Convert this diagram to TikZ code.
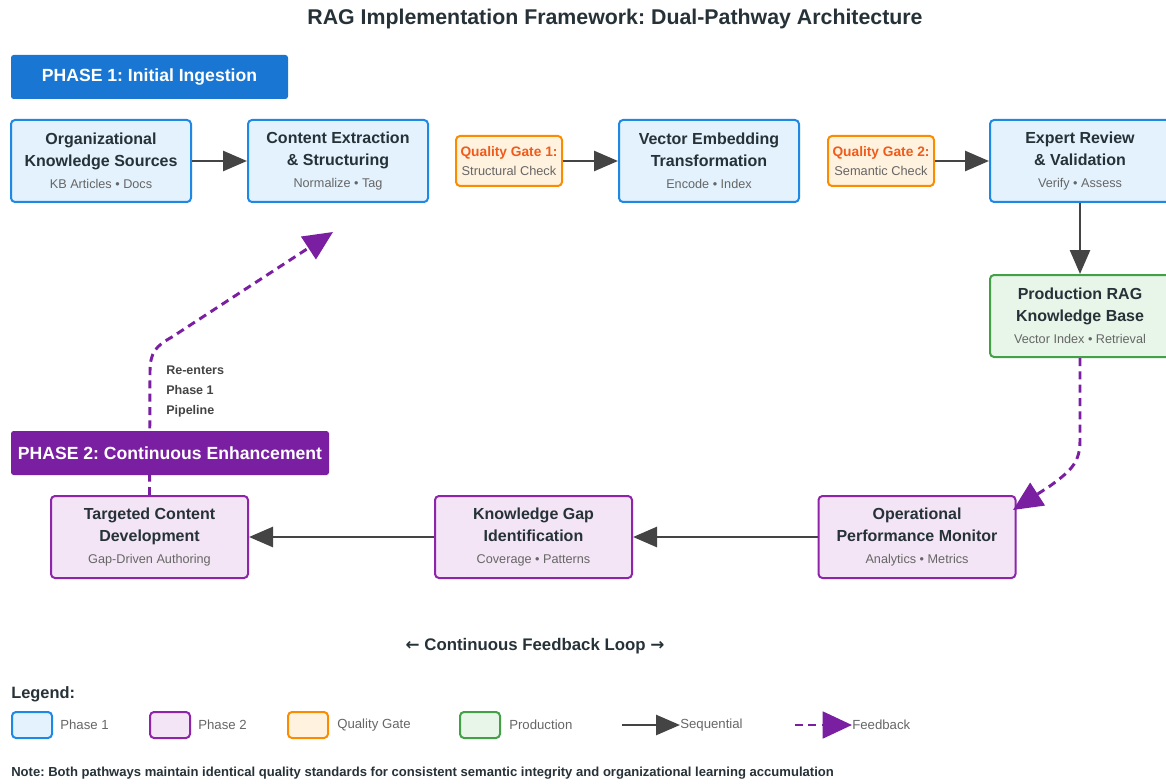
\documentclass[tikz,border=0pt]{standalone}
\usepackage{fontspec}
\setmainfont{Liberation Sans}
\newfontfamily\arrowfont{DejaVu Sans}
\frenchspacing
\usetikzlibrary{arrows.meta}
\definecolor{onefill}{HTML}{E3F2FD}
\definecolor{onedraw}{HTML}{1E88E5}
\definecolor{onebanner}{HTML}{1976D2}
\definecolor{twofill}{HTML}{F3E5F5}
\definecolor{twodraw}{HTML}{8E24AA}
\definecolor{twobanner}{HTML}{7B1FA2}
\definecolor{gatefill}{HTML}{FFF3E0}
\definecolor{gatedraw}{HTML}{FB8C00}
\definecolor{gatetext}{HTML}{F05A1A}
\definecolor{prodfill}{HTML}{E8F5E9}
\definecolor{proddraw}{HTML}{43A047}
\definecolor{seqgray}{HTML}{444444}
\definecolor{titlegray}{HTML}{263238}
\definecolor{subgray}{HTML}{666666}
\newcommand{\titlefont}{\fontsize{12}{14.5}\selectfont\bfseries\color{titlegray}}
\newcommand{\subfont}{\fontsize{9.5}{11}\selectfont\color{subgray}}
\newcommand{\boxtext}[3]{\titlefont #1\\[4.2pt]\titlefont #2\\[4.8pt]\subfont #3}
\newcommand{\gatetext}[2]{\fontsize{10.3}{12}\selectfont\bfseries\color{gatetext}#1\\[2.6pt]\fontsize{9.6}{11}\selectfont\color{subgray}#2}
\tikzstyle{phaseone} = [rectangle, rounded corners=3pt, minimum width=135pt, minimum height=61.5pt, align=center, draw=onedraw, fill=onefill, line width=1.5pt]
\tikzstyle{phasetwo} = [rectangle, rounded corners=3pt, minimum width=147.75pt, minimum height=61.5pt, align=center, draw=twodraw, fill=twofill, line width=1.5pt]
\tikzstyle{prod} = [rectangle, rounded corners=3pt, minimum width=135pt, minimum height=61.5pt, align=center, draw=proddraw, fill=prodfill, line width=1.5pt]
\tikzstyle{gate} = [rectangle, rounded corners=3pt, minimum width=79.5pt, minimum height=37.5pt, inner sep=1pt, align=center, draw=gatedraw, fill=gatefill, line width=1.5pt]
\tikzstyle{banner} = [rectangle, rounded corners=2pt, minimum height=33pt, text=white, font=\fontsize{13.2}{15}\selectfont\bfseries]
\tikzstyle{legendbox} = [rectangle, rounded corners=3pt, minimum width=30pt, minimum height=19.5pt, line width=1.5pt]
\tikzstyle{legendtext} = [anchor=west, inner sep=0pt, text=subgray, font=\fontsize{9.9}{11}\selectfont]
\tikzstyle{arrow} = [line width=2pt, draw=seqgray, -{Triangle[length=18pt, width=15pt, fill=seqgray]}]
\tikzstyle{feedback} = [line width=2.2pt, draw=twobanner, dash pattern=on 6pt off 4pt, -{Triangle[length=22pt, width=20pt, fill=twobanner]}]

\begin{document}
\begin{tikzpicture}[x=0.75pt, y=-0.75pt]
\useasboundingbox (0,0) rectangle (1166,784);

\node (Title) [font=\fontsize{16}{18}\selectfont\bfseries, text=titlegray] at (615,19) {RAG Implementation Framework: Dual-Pathway Architecture};
\node (PhaseOne) [banner, fill=onebanner, minimum width=207.75pt] at (149.5,77) {PHASE 1: Initial Ingestion};

% phase 1 pipeline
\node (OrgSources) [phaseone] at (101,161) {\boxtext{Organizational}{Knowledge Sources}{KB Articles • Docs}};
\node (Extraction) [phaseone] at (338,161) {\boxtext{Content Extraction}{\& Structuring}{Normalize • Tag}};
\node (GateOne) [gate] at (509,161) {\gatetext{Quality Gate 1:}{Structural Check}};
\node (Embedding) [phaseone] at (709,161) {\boxtext{Vector Embedding}{Transformation}{Encode • Index}};
\node (GateTwo) [gate] at (881,161) {\gatetext{Quality Gate 2:}{Semantic Check}};
\node (Review) [phaseone] at (1080,161) {\boxtext{Expert Review}{\& Validation}{Verify • Assess}};
\node (ProdBase) [prod] at (1080,316) {\boxtext{Production RAG}{Knowledge Base}{Vector Index • Retrieval}};

% phase 2 loop
\node (Monitor) [phasetwo] at (917,537) {\boxtext{Operational}{Performance Monitor}{Analytics • Metrics}};
\node (GapId) [phasetwo] at (533.5,537) {\boxtext{Knowledge Gap}{Identification}{Coverage • Patterns}};
\node (Targeted) [phasetwo] at (149.5,537) {\boxtext{Targeted Content}{Development}{Gap-Driven Authoring}};

\draw [arrow] (OrgSources) -- (Extraction);
\draw [arrow] (GateOne) -- (Embedding);
\draw [arrow] (GateTwo) -- (Review);
\draw [arrow] (Review) -- (ProdBase);
\draw [arrow] (Monitor) -- (GapId);
\draw [arrow] (GapId) -- (Targeted);

\coordinate (MonitorIn) at (1013,510);
\coordinate (ReEntry) at (333,232);
\draw [feedback] (ProdBase.south) -- (1080,440) .. controls (1080,462) and (1072,470) .. (1050,486) -- (MonitorIn);
\draw [feedback] (Targeted.north) -- (150,372) .. controls (150,352) and (156,346) .. (172,337) -- (ReEntry);

\node (PhaseTwo) [banner, fill=twobanner, minimum width=238.5pt] at (170,453) {PHASE 2: Continuous Enhancement};
\node (ReLabel) [anchor=north west, align=left, inner sep=0pt, text=seqgray, font=\fontsize{9.4}{15}\selectfont\bfseries] at (166,366) {Re-enters\\Phase 1\\Pipeline};

\node (LoopLabel) [font=\fontsize{12.6}{15}\selectfont\bfseries, text=titlegray] at (535,646) {{\arrowfont ←} Continuous Feedback Loop {\arrowfont →}};

% legend
\node (Legend) [anchor=west, inner sep=0pt, font=\fontsize{12.3}{14}\selectfont\bfseries, text=titlegray] at (11,694) {Legend:};
\node (LegOne) [legendbox, draw=onedraw, fill=onefill] at (32,725) {};
\node (LegOneText) [legendtext] at (60,725) {Phase 1};
\node (LegTwo) [legendbox, draw=twodraw, fill=twofill] at (170,725) {};
\node (LegTwoText) [legendtext] at (198,725) {Phase 2};
\node (LegGate) [legendbox, draw=gatedraw, fill=gatefill] at (308,725) {};
\node (LegGateText) [legendtext] at (337,725) {Quality Gate};
\node (LegProd) [legendbox, draw=proddraw, fill=prodfill] at (480,725) {};
\node (LegProdText) [legendtext] at (509,725) {Production};
\coordinate (LegSeqStart) at (622,725);
\node (LegSeqText) [legendtext] at (680,725) {Sequential};
\draw [arrow] (LegSeqStart) -- (LegSeqText.west);
\coordinate (LegFbStart) at (795,725);
\node (LegFbText) [legendtext] at (852,725) {Feedback};
\draw [feedback] (LegFbStart) -- (LegFbText.west);

\node (Note) [anchor=west, inner sep=0pt, font=\fontsize{9.8}{11}\selectfont\bfseries, text=titlegray] at (11,773) {Note: Both pathways maintain identical quality standards for consistent semantic integrity and organizational learning accumulation};
\end{tikzpicture}
\end{document}
